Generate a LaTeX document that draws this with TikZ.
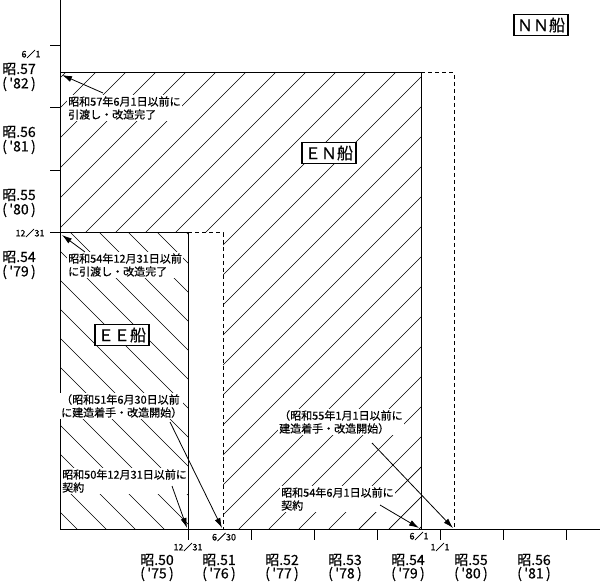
\documentclass[tikz,border=0pt]{standalone}
\usepackage{fontspec}
\newfontfamily\jpfont{Noto Sans CJK JP}[FakeBold=0.5]
\usetikzlibrary{arrows.meta}
\tikzset{
  hatch/.style={line width=0.7pt},
  edge/.style={line width=1pt},
  limit/.style={line width=1pt,dash pattern=on 4pt off 3pt},
  note/.style={fill=white,inner sep=1pt,align=left,font=\jpfont\fontsize{11}{13}\selectfont},
  ship/.style={draw,line width=1.2pt,fill=white,inner sep=3pt,font=\jpfont\fontsize{16}{16}\selectfont},
  year/.style={font=\jpfont\fontsize{14}{14}\selectfont},
  date/.style={font=\jpfont\fontsize{9}{9}\selectfont},
  pointer/.style={line width=0.8pt,-{Latex[length=10pt,width=6pt]}}
}
\begin{document}
\begin{tikzpicture}[x=1pt,y=-1pt]
\useasboundingbox (0,0) rectangle (600,585);
% hatching of the EN area
\begin{scope}
\clip (60,73) -- (421,73) -- (421,529) -- (223,529) -- (223,233) -- (60,233) -- cycle;
\foreach \c in {138,168,...,948} \draw[hatch] ({\c-600},600) -- (\c,0);
\end{scope}
% hatching of the EE area
\begin{scope}
\clip (60,233) rectangle (188,529);
\foreach \c in {-481,-452,...,-46} \draw[hatch] (\c,0) -- ({\c+600},600);
\end{scope}
% limits
\draw[edge] (50,233) -- (188,233);
\draw[limit] (188,233) -- (223,233) -- (223,529);
\draw[edge] (188,233) -- (188,540);
\draw[edge] (60,73) -- (421,73) -- (421,529);
\draw[limit] (421,73) -- (454,73) -- (454,529);
% axes
\draw[edge] (60,0) -- (60,529) -- (600,529);
\foreach \y in {46,108,171} \draw[edge] (50,\y) -- (60,\y);
\foreach \x in {251,314,...,566} \draw[edge] (\x,529) -- (\x,540);
\foreach \y/\s/\w in {69/57/82,132/56/81,195/55/80,257/54/79}{
  \node[year] (ly\s) at (19,\y) {昭.\s};
  \node[year] (lq\s) at (19,\y+15) {(\,'\w\,)};
}
\foreach \x/\s/\w in {157/50/75,219/51/76,282/52/77,345/53/78,408/54/79,471/55/80,534/56/81}{
  \node[year] (by\s) at (\x,560) {昭.\s};
  \node[year] (bq\s) at (\x,574) {(\,'\w\,)};
}
\node[date] (d61) at (31,54) {6／1};
\node[date] (d1231) at (30,233) {12／31};
\node[date] (b1231) at (188,547) {12／31};
\node[date] (b630) at (224,537) {6／30};
\node[date] (b61) at (419,536) {6／1};
\node[date] (b11) at (440,547) {1／1};
% ship classes
\node[ship] (nn) at (541,25) {ＮＮ船};
\node[ship] (en) at (329,153) {ＥＮ船};
\node[ship] (ee) at (122,335) {ＥＥ船};
% notes
\node[note,anchor=west] (n57) at (67,108) {昭和57年6月1日以前に\\引渡し・改造完了};
\node[note,anchor=west] (n54) at (67,265) {昭和54年12月31日以前\\に引渡し・改造完了};
\node[note,anchor=west] (n51) at (60,406) {（昭和51年6月30日以前\\に建造着手・改造開始）};
\node[note,anchor=west] (n50) at (61,481) {昭和50年12月31日以前に\\契約};
\node[note,anchor=west] (n55) at (278,422) {（昭和55年1月1日以前に\\建造着手・改造開始）};
\node[note,anchor=west] (n54b) at (280,499) {昭和54年6月1日以前に\\契約};
\coordinate (f57) at (103,93);   \coordinate (t57) at (62,75);
\coordinate (f54) at (85,252);   \coordinate (t54) at (62,235);
\coordinate (f51) at (170,422);  \coordinate (t51) at (222,528);
\coordinate (f50) at (172,486);  \coordinate (t50) at (187,528);
\coordinate (f55) at (372,443);  \coordinate (t55) at (453,528);
\coordinate (f54b) at (380,505); \coordinate (t54b) at (419,528);
\foreach \n in {57,54,51,50,55,54b} \draw[pointer] (f\n) -- (t\n);
\end{tikzpicture}
\end{document}
